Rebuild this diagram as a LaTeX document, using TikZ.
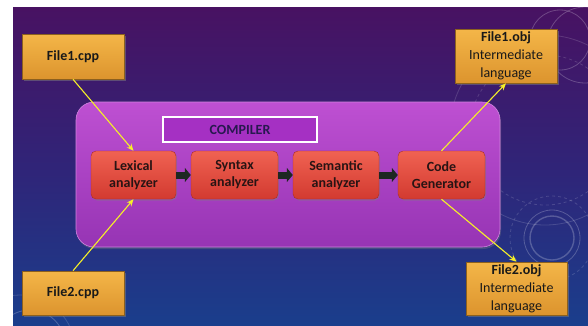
\documentclass[tikz,border=0pt]{standalone}
\usepackage{fontspec}
\setmainfont{Carlito}
\usetikzlibrary{arrows.meta,shadows}
\definecolor{bgtop}{RGB}{72,18,98}
\definecolor{bgmid}{RGB}{48,36,120}
\definecolor{bgbot}{RGB}{26,62,140}
\definecolor{cmptop}{RGB}{190,80,210}
\definecolor{cmpbot}{RGB}{150,52,180}
\definecolor{titlefill}{RGB}{165,48,195}
\definecolor{titletext}{RGB}{40,24,80}
\definecolor{redtop}{RGB}{240,98,82}
\definecolor{redbot}{RGB}{210,58,48}
\definecolor{redtext}{RGB}{40,20,20}
\definecolor{ortop}{RGB}{244,182,72}
\definecolor{orbot}{RGB}{220,148,46}
\definecolor{oredge}{RGB}{140,96,30}
\definecolor{ylw}{RGB}{245,240,40}
\definecolor{darkarr}{RGB}{30,40,34}
\tikzset{
  filebox/.style={draw=oredge, line width=0.6pt, top color=ortop, bottom color=orbot,
    text=black!90, align=center, font=\fontsize{14}{18}\selectfont,
    drop shadow={shadow xshift=1.5pt, shadow yshift=-1.5pt, opacity=0.5},
    inner sep=0pt},
  stagebox/.style={draw=redbot!80!black, line width=0.4pt, rounded corners=5pt,
    top color=redtop, bottom color=redbot, text=redtext, align=center,
    font=\bfseries\fontsize{14}{17}\selectfont, minimum height=48pt,
    drop shadow={shadow xshift=1pt, shadow yshift=-1.5pt, opacity=0.45}, inner sep=0pt},
  yarrow/.style={draw=ylw, line width=1.1pt, -{Stealth[length=7pt,width=6pt]}},
  darrow/.style={draw=darkarr, line width=7pt, -{Triangle[length=6pt,width=14pt]}},
  deco/.style={draw=white, opacity=0.22, line width=0.8pt}
}
\begin{document}
\begin{tikzpicture}[x=1pt,y=-1pt]
\useasboundingbox (0,0) rectangle (588,325);
\fill[white] (0,0) rectangle (588,325);
% background
\shade[top color=bgtop, bottom color=bgbot, middle color=bgmid] (13,7) rectangle (588,325);
\begin{scope}
\clip (13,7) rectangle (588,325);
\draw[deco] (585,45) circle (38);
\draw[deco] (560,40) circle (30);
\draw[deco, opacity=0.15] (545,130) circle (95);
\draw[deco, opacity=0.15, dashed] (545,130) circle (75);
\draw[deco, line width=1.4pt] (552,238) circle (22);
\draw[deco] (552,238) circle (28);
\draw[deco, dashed, opacity=0.15] (552,238) circle (42);
\draw[deco] (30,345) circle (35);
\draw[deco, opacity=0.15] (20,350) circle (55);
\end{scope}
% compiler container
\node[draw=cmptop!70!white, line width=0.6pt, rounded corners=18pt, top color=cmptop, bottom color=cmpbot,
  minimum width=424pt, minimum height=145pt, inner sep=0pt,
  drop shadow={shadow xshift=1pt, shadow yshift=-2pt, opacity=0.35}] (comp) at (288,174.5) {};
\node[draw=white, line width=1.2pt, fill=titlefill, minimum width=154pt, minimum height=25pt,
  inner sep=0pt, text=titletext, font=\bfseries\fontsize{14}{17}\selectfont] (title) at (240,129.5) {COMPILER};
% stages
\node[stagebox, minimum width=85pt] (lex) at (133.5,175) {Lexical\\analyzer};
\node[stagebox, minimum width=87pt] (syn) at (234.5,175) {Syntax\\analyzer};
\node[stagebox, minimum width=86pt] (sem) at (336,175) {Semantic\\analyzer};
\node[stagebox, minimum width=87pt] (cg) at (441.5,175) {Code\\Generator};
% files
\node[filebox, minimum width=102pt, minimum height=45pt, font=\bfseries\fontsize{14}{18}\selectfont] (f1cpp) at (73,56.5) {File1.cpp};
\node[filebox, minimum width=102pt, minimum height=44pt, font=\bfseries\fontsize{14}{18}\selectfont] (f2cpp) at (73,293) {File2.cpp};
\node[filebox, minimum width=102pt, minimum height=54pt] (f1obj) at (506,56) {\textbf{File1.obj}\\Intermediate\\language};
\node[filebox, minimum width=101pt, minimum height=53pt] (f2obj) at (516.5,288.5) {\textbf{File2.obj}\\Intermediate\\language};
% stage arrows
\draw[darrow] (lex.east) -- (syn.west);
\draw[darrow] (syn.east) -- (sem.west);
\draw[darrow] (sem.east) -- (cg.west);
% yellow arrows
\draw[yarrow] (f1cpp.south) -- (lex.north);
\draw[yarrow] (f2cpp.north) -- (lex.south);
\draw[yarrow] (cg.north) -- (f1obj.south);
\draw[yarrow] (cg.south) -- (f2obj.north);
\end{tikzpicture}
\end{document}
